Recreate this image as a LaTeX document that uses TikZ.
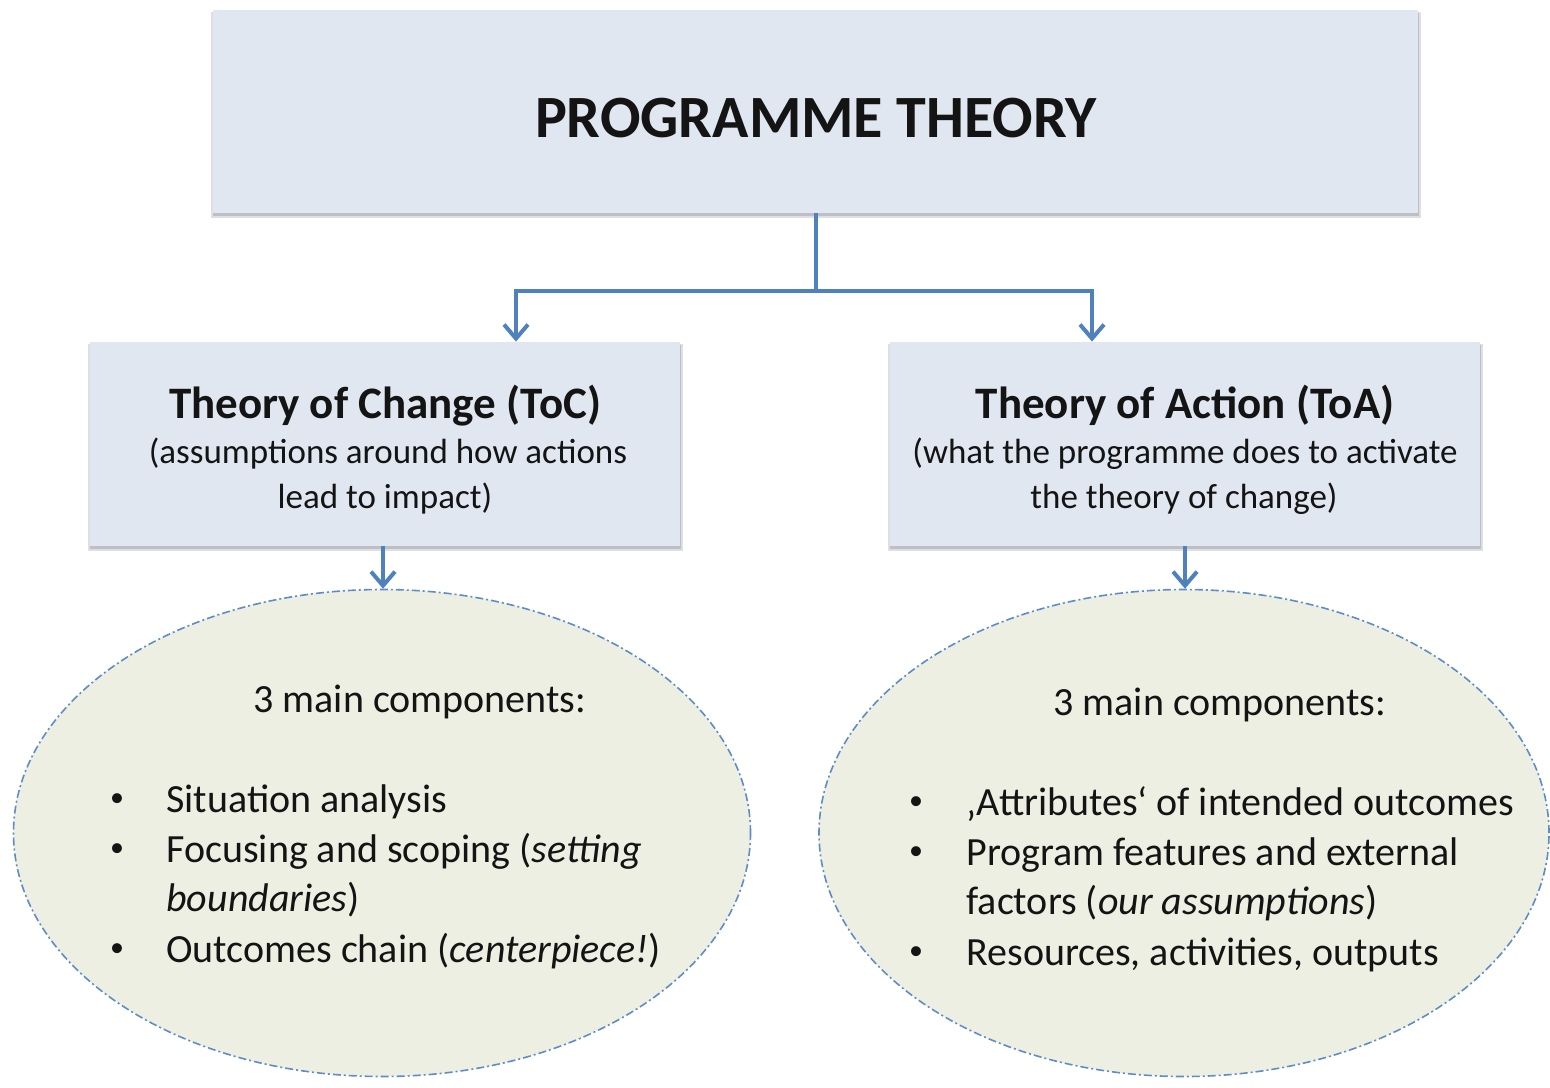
\documentclass[tikz,border=0pt]{standalone}
\usepackage{fontspec}
\setmainfont{Carlito}
\usetikzlibrary{arrows.meta,shapes.geometric}
\definecolor{boxfill}{RGB}{224,231,241}
\definecolor{ovalfill}{RGB}{237,239,227}
\definecolor{linkblue}{RGB}{79,129,189}
\definecolor{ovalline}{RGB}{95,140,198}
\definecolor{shade}{RGB}{190,191,198}
\definecolor{ink}{RGB}{20,20,20}
\tikzset{
  box/.style={rectangle, fill=boxfill, inner sep=0pt},
  boxshadow/.style={fill=shade},
  oval/.style={ellipse, fill=ovalfill, draw=ovalline, line width=0.8pt,
    dash pattern=on 4pt off 1.5pt on 1pt off 1.5pt, inner sep=0pt},
  link/.style={draw=linkblue, line width=2pt},
  linkarrow/.style={link, -{Straight Barb[length=7pt,width=12pt,line width=2pt]}},
  titletext/.style={font=\fontsize{30}{36}\selectfont\bfseries, text=ink, inner sep=0pt},
  headtext/.style={font=\fontsize{22.5}{27}\selectfont\bfseries, text=ink, inner sep=0pt},
  subtext/.style={font=\fontsize{17.5}{22.5}\selectfont, text=ink, inner sep=0pt},
  ovaltext/.style={font=\fontsize{20}{25}\selectfont, text=ink, inner sep=0pt},
  bullettext/.style={font=\fontsize{14}{16}\selectfont, text=ink, inner sep=0pt},
}
\begin{document}
\begin{tikzpicture}[x=0.5pt,y=-0.5pt]
\useasboundingbox (0,0) rectangle (1550,1087);
\begin{scope}
\clip (0,0) rectangle (1550,1087);

% soft shadows under the boxes
\fill[boxshadow, opacity=0.5] (211,12) rectangle (1421,218);
\fill[boxshadow] (213,13) rectangle (1419,216);
\fill[boxshadow, opacity=0.5] (88,344) rectangle (683,551);
\fill[boxshadow] (90,345) rectangle (681,549);
\fill[boxshadow, opacity=0.5] (888,344) rectangle (1483,551);
\fill[boxshadow] (890,345) rectangle (1481,549);

% boxes
\node[box, minimum width=602.5pt, minimum height=101.5pt] (pt) at (815.5,111.5) {};
\node[box, minimum width=295pt, minimum height=102pt] (toc) at (385,444) {};
\node[box, minimum width=295pt, minimum height=102pt] (toa) at (1185,444) {};

% ovals
\node[oval, minimum width=368.5pt, minimum height=243.5pt] (ell1) at (382,833) {};
\node[oval, minimum width=365pt, minimum height=243.5pt] (ell2) at (1184,833) {};

% box texts
\node[titletext, anchor=base] (ptlabel) at (816,137) {PROGRAMME THEORY};
\node[headtext, anchor=base] (tochead) at (385,418) {Theory of Change (ToC)};
\node[subtext, anchor=base] (tocsub1) at (388,463) {(assumptions around how actions};
\node[subtext, anchor=base] (tocsub2) at (385,508) {lead to impact)};
\node[headtext, anchor=base] (toahead) at (1185,418) {Theory of Action (ToA)};
\node[subtext, anchor=base] (toasub1) at (1185,463) {(what the programme does to activate};
\node[subtext, anchor=base] (toasub2) at (1184,508) {the theory of change)};

% left oval texts
\node[ovaltext, anchor=base west] (lhead) at (253,712) {3 main components:};
\node[bullettext, anchor=base] (lb1) at (117,806) {•};
\node[bullettext, anchor=base] (lb2) at (117,856) {•};
\node[bullettext, anchor=base] (lb3) at (117,956) {•};
\node[ovaltext, anchor=base west] (li1) at (166,812) {Situation analysis};
\node[ovaltext, anchor=base west] (li2) at (166,862) {Focusing and scoping (\textit{setting}};
\node[ovaltext, anchor=base west] (li2b) at (166,911) {\textit{boundaries})};
\node[ovaltext, anchor=base west] (li3) at (166,962) {Outcomes chain (\textit{centerpiece!})};

% right oval texts
\node[ovaltext, anchor=base west] (rhead) at (1053,715) {3 main components:};
\node[bullettext, anchor=base] (rb1) at (916,809) {•};
\node[bullettext, anchor=base] (rb2) at (916,859) {•};
\node[bullettext, anchor=base] (rb3) at (916,959) {•};
\node[ovaltext, anchor=base west] (ri1) at (966,815) {‚Attributes‘ of intended outcomes};
\node[ovaltext, anchor=base west] (ri2) at (966,865) {Program features and external};
\node[ovaltext, anchor=base west] (ri2b) at (966,914) {factors (\textit{our assumptions})};
\node[ovaltext, anchor=base west] (ri3) at (966,965) {Resources, activities, outputs};

% connectors
\coordinate (split) at (816,291);
\draw[link] (pt.south -| split) -- (split);
\draw[linkarrow] (split) -| (516,0 |- toc.north);
\draw[linkarrow] (split) -| (1092,0 |- toa.north);
\draw[linkarrow] (383,0 |- toc.south) -- (383,0 |- ell1.north);
\draw[linkarrow] (1185,0 |- toa.south) -- (1185,0 |- ell2.north);
\end{scope}
\end{tikzpicture}
\end{document}
